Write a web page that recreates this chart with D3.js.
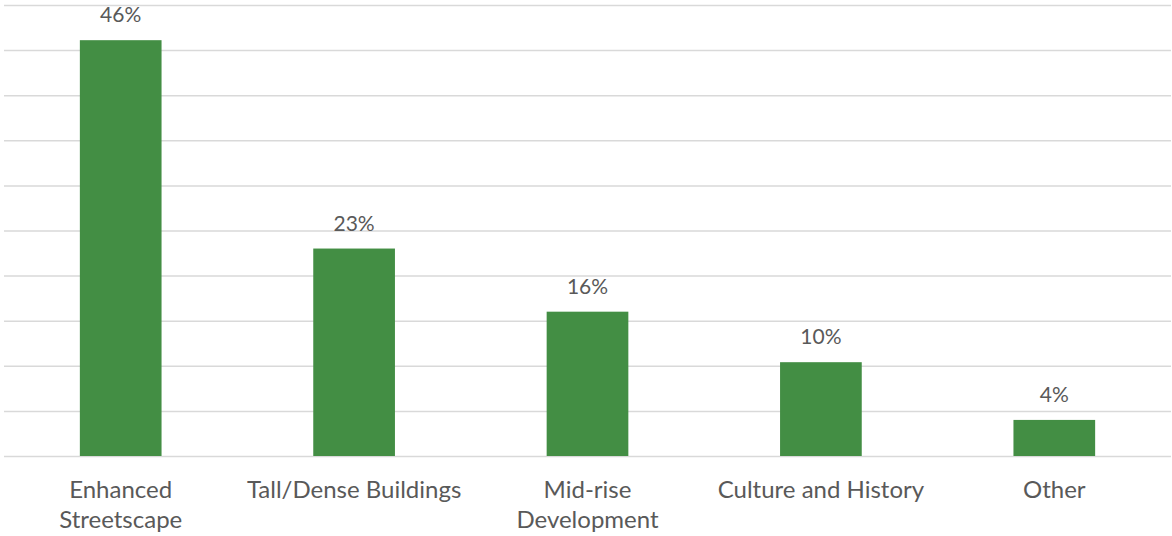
<!DOCTYPE html>
<html>
<head>
<meta charset="utf-8">
<script src="https://cdn.jsdelivr.net/npm/d3@7"></script>
<style>
  body { margin: 0; background: white; }
  text { font-family: Lato, "Open Sans", sans-serif; fill: #595959; }
</style>
</head>
<body>
<svg width="1172" height="536"></svg>
<script>
var categories = [
  ["Enhanced", "Streetscape"],
  ["Tall/Dense Buildings"],
  ["Mid-rise", "Development"],
  ["Culture and History"],
  ["Other"]
]
var values = [46.1, 23.0, 16.0, 10.4, 4.0]
var yTicks = [0, 5, 10, 15, 20, 25, 30, 35, 40, 45, 50]

var
  svg = d3.select("svg"),
  margin = { top: 5, right: 1, bottom: 80, left: 4 },
  width = svg.attr("width") - margin.left - margin.right,
  height = svg.attr("height") - margin.top - margin.bottom,
  g = svg.append("g").attr("transform", `translate(${margin.left},${margin.top})`)

var x = d3.scaleBand().domain(d3.range(values.length)).range([0, width])
  .paddingInner(0.65).paddingOuter(0.325)
var y = d3.scaleLinear().domain([0, 50]).range([height, 0])

// gridlines
g.append("g")
  .call(d3.axisLeft(y).tickValues(yTicks).tickSize(-width).tickFormat(""))
  .call(a => a.select(".domain").remove())
  .selectAll("line")
  .attr("stroke", "#d9d9d9")
  .attr("stroke-width", 1.5)

g.selectAll("rect.bar").data(values).enter().append("rect")
  .attr("class", "bar")
  .attr("x", (d, i) => x(i))
  .attr("y", d => y(d))
  .attr("width", x.bandwidth())
  .attr("height", d => height - y(d))
  .attr("fill", "#438e44")

var fmt = d3.format(".0f")
g.selectAll("text.val").data(values).enter().append("text")
  .attr("class", "val")
  .attr("x", (d, i) => x(i) + x.bandwidth() / 2)
  .attr("y", d => y(d) - 18)
  .attr("text-anchor", "middle")
  .style("font-size", "21px")
  .text(d => fmt(d) + "%")

var labels = g.selectAll("text.cat").data(categories).enter().append("text")
  .attr("class", "cat")
  .attr("text-anchor", "middle")
  .attr("transform", (d, i) => `translate(${x(i) + x.bandwidth() / 2},${height + 42})`)
  .style("font-size", "24px")

labels.selectAll("tspan").data(d => d).enter().append("tspan")
  .attr("x", 0)
  .attr("dy", (d, i) => i ? 30 : 0)
  .text(d => d)
</script>
</body>
</html>
